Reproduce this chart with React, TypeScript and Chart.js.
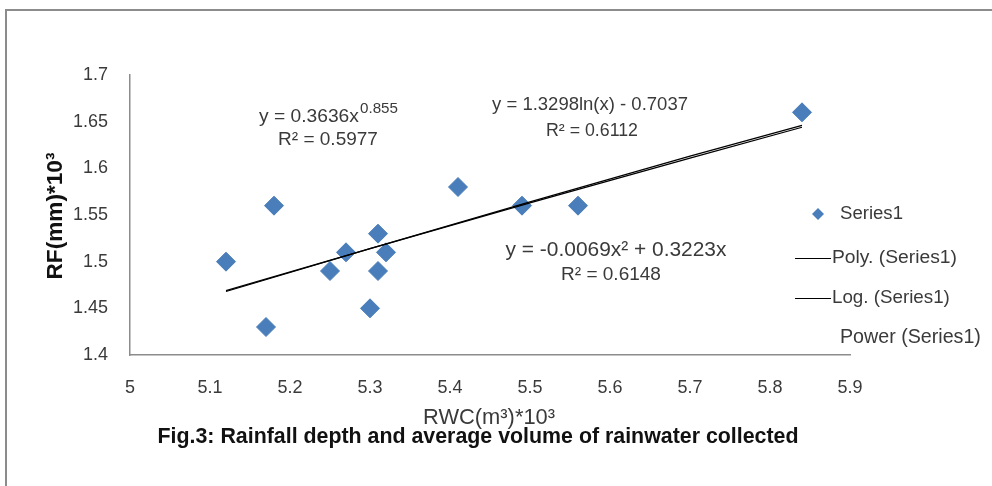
import React, { useEffect, useRef } from "react";
import { Chart, registerables } from "chart.js";

Chart.register(...registerables);

// ---- data ----
const rwcValues = [5.12, 5.17, 5.18, 5.25, 5.27, 5.30, 5.31, 5.31, 5.32, 5.41, 5.49, 5.56, 5.84];
const rfValues = [1.50, 1.43, 1.56, 1.49, 1.51, 1.45, 1.53, 1.49, 1.51, 1.58, 1.56, 1.56, 1.66];

const trendX = [5.12, 5.3, 5.5, 5.7, 5.84];
const polyTrendY = [1.469, 1.514, 1.564, 1.613, 1.646];
const logTrendY = [1.468, 1.514, 1.563, 1.611, 1.644];

const xTickLabels = ["5", "5.1", "5.2", "5.3", "5.4", "5.5", "5.6", "5.7", "5.8", "5.9"];
const yTickLabels = ["1.4", "1.45", "1.5", "1.55", "1.6", "1.65", "1.7"];

const seriesName = "Series1";
const legendLabels = ["Series1", "Poly. (Series1)", "Log. (Series1)", "Power (Series1)"];
const powerEq = ["y = 0.3636x", "0.855", "R² = 0.5977"];
const logEq = ["y = 1.3298ln(x) - 0.7037", "R² = 0.6112"];
const polyEq = ["y = -0.0069x² + 0.3223x", "R² = 0.6148"];
const yTitle = "RF(mm)*10³";
const xTitle = "RWC(m³)*10³";
const caption = "Fig.3: Rainfall depth and average volume of rainwater collected";

const FONT = '"Liberation Sans", Arial, sans-serif';
const TEXT = "#3a3a3a";
const BLUE = "#4a7ebb";

function fit(ctx: CanvasRenderingContext2D, text: string, weight: string, width: number) {
  ctx.font = `${weight} 20px ${FONT}`;
  const w = ctx.measureText(text).width;
  const size = (20 * width) / w;
  ctx.font = `${weight} ${size}px ${FONT}`;
  return size;
}

function diamond(ctx: CanvasRenderingContext2D, x: number, y: number, r: number) {
  ctx.beginPath();
  ctx.moveTo(x, y - r);
  ctx.lineTo(x + r, y);
  ctx.lineTo(x, y + r);
  ctx.lineTo(x - r, y);
  ctx.closePath();
  ctx.fill();
}

const overlay = {
  id: "overlay",
  beforeDraw(chart: any) {
    const ctx: CanvasRenderingContext2D = chart.ctx;
    ctx.save();
    ctx.fillStyle = "#ffffff";
    ctx.fillRect(0, 0, chart.width, chart.height);
    ctx.strokeStyle = "#8c8c8c";
    ctx.lineWidth = 2;
    ctx.beginPath();
    ctx.moveTo(6, chart.height);
    ctx.lineTo(6, 10);
    ctx.lineTo(chart.width, 10);
    ctx.stroke();
    ctx.restore();
  },
  afterDraw(chart: any) {
    const ctx: CanvasRenderingContext2D = chart.ctx;
    ctx.save();
    ctx.fillStyle = TEXT;
    ctx.textBaseline = "middle";

    // power equation
    ctx.textAlign = "left";
    fit(ctx, powerEq[0], "normal", 100);
    ctx.fillText(powerEq[0], 259, 117);
    fit(ctx, powerEq[1], "normal", 38);
    ctx.fillText(powerEq[1], 360, 109);
    ctx.textAlign = "center";
    fit(ctx, powerEq[2], "normal", 100);
    ctx.fillText(powerEq[2], 328, 140);

    // log equation
    fit(ctx, logEq[0], "normal", 196);
    ctx.fillText(logEq[0], 590, 105);
    fit(ctx, logEq[1], "normal", 92);
    ctx.fillText(logEq[1], 592, 131);

    // poly equation
    fit(ctx, polyEq[0], "normal", 221);
    ctx.fillText(polyEq[0], 616, 250);
    fit(ctx, polyEq[1], "normal", 100);
    ctx.fillText(polyEq[1], 611, 275);

    // axis titles
    fit(ctx, xTitle, "normal", 132);
    ctx.fillText(xTitle, 489, 418);
    ctx.fillStyle = "#111";
    fit(ctx, caption, "bold", 641);
    ctx.fillText(caption, 478, 437);

    ctx.save();
    ctx.translate(56, 216);
    ctx.rotate(-Math.PI / 2);
    fit(ctx, yTitle, "bold", 127);
    ctx.fillText(yTitle, 0, 0);
    ctx.restore();

    // legend
    ctx.fillStyle = BLUE;
    diamond(ctx, 818, 214, 6);
    ctx.fillStyle = TEXT;
    ctx.textAlign = "left";
    fit(ctx, legendLabels[0], "normal", 63);
    ctx.fillText(legendLabels[0], 840, 214);
    ctx.strokeStyle = "#000";
    ctx.lineWidth = 1;
    ctx.beginPath();
    ctx.moveTo(795, 258.5);
    ctx.lineTo(831, 258.5);
    ctx.moveTo(795, 298.5);
    ctx.lineTo(831, 298.5);
    ctx.stroke();
    fit(ctx, legendLabels[1], "normal", 125);
    ctx.fillText(legendLabels[1], 832, 258);
    fit(ctx, legendLabels[2], "normal", 118);
    ctx.fillText(legendLabels[2], 832, 298);
    fit(ctx, legendLabels[3], "normal", 141);
    ctx.fillText(legendLabels[3], 840, 338);
    ctx.restore();
  },
};

export default function App() {
  const ref = useRef<HTMLCanvasElement>(null);

  useEffect(() => {
    if (!ref.current) return;
    const chart = new Chart(ref.current, {
      type: "scatter",
      data: {
        datasets: [
          {
            label: legendLabels[1],
            data: trendX.map((x, i) => ({ x, y: polyTrendY[i] })),
            showLine: true,
            borderColor: "#000",
            borderWidth: 1.2,
            pointRadius: 0,
            fill: false,
            order: 0,
          },
          {
            label: legendLabels[2],
            data: trendX.map((x, i) => ({ x, y: logTrendY[i] })),
            showLine: true,
            borderColor: "#000",
            borderWidth: 1.2,
            pointRadius: 0,
            fill: false,
            order: 0,
          },
          {
            label: seriesName,
            data: rwcValues.map((x, i) => ({ x, y: rfValues[i] })),
            pointStyle: "rectRot",
            pointRadius: 9.5,
            backgroundColor: BLUE,
            borderColor: BLUE,
            borderWidth: 1,
            order: 1,
          },
        ],
      },
      options: {
        responsive: false,
        animation: false,
        layout: { padding: { left: 0, top: 75, right: 142, bottom: 0 } },
        plugins: { legend: { display: false }, tooltip: { enabled: false }, title: { display: false } },
        scales: {
          x: {
            type: "linear",
            min: 5,
            max: 5.9,
            afterFit: (s: any) => {
              s.height = 131;
            },
            grid: { display: false, drawTicks: false },
            border: { display: true, color: "#8c8c8c", width: 1.5 },
            ticks: {
              stepSize: 0.1,
              padding: 22,
              color: TEXT,
              font: { family: FONT, size: 18 },
              callback: (_v: any, i: number) => xTickLabels[i],
            },
          },
          y: {
            type: "linear",
            min: 1.4,
            max: 1.7,
            afterFit: (s: any) => {
              s.width = 130;
            },
            grid: { display: false, drawTicks: false },
            border: { display: true, color: "#8c8c8c", width: 1.5 },
            ticks: {
              stepSize: 0.05,
              padding: 22,
              color: TEXT,
              font: { family: FONT, size: 18 },
              callback: (_v: any, i: number) => yTickLabels[i],
            },
          },
        },
      },
      plugins: [overlay],
    });
    return () => chart.destroy();
  }, []);

  return (
    <div style={{ position: "fixed", left: 0, top: 0, width: 992, height: 486, background: "#fff" }}>
      <canvas ref={ref} width={992} height={486} style={{ width: 992, height: 486, display: "block" }} />
    </div>
  );
}
